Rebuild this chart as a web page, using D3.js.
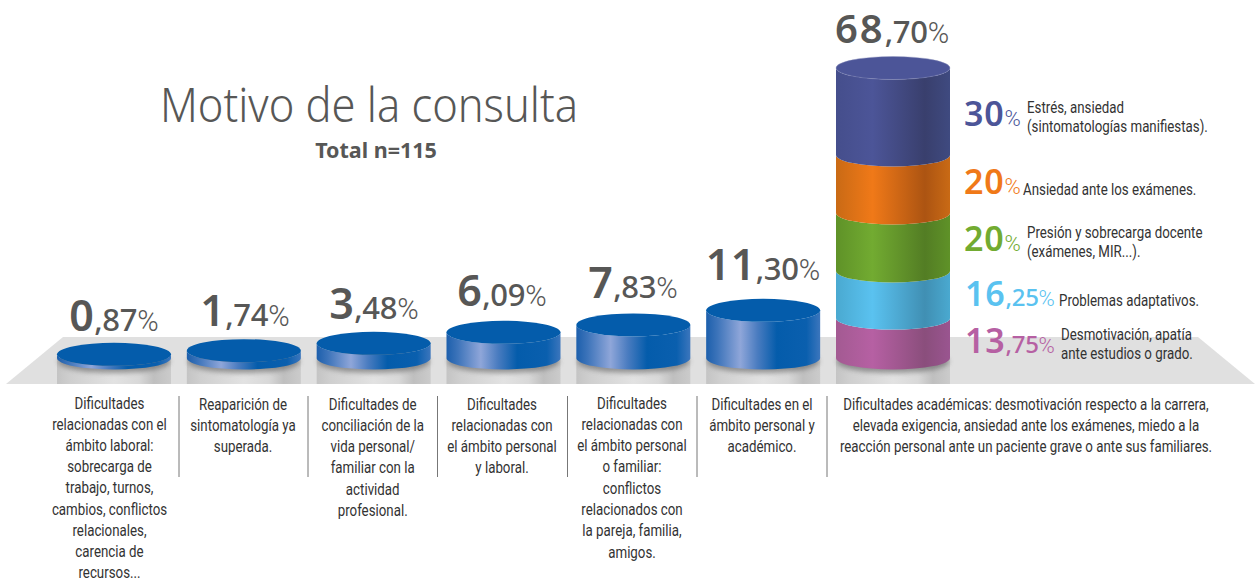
<!DOCTYPE html>
<html lang="es"><head><meta charset="utf-8">
<script src="https://cdn.jsdelivr.net/npm/d3@7/dist/d3.min.js"></script>
<style>html,body{margin:0;padding:0;background:#fff}svg{display:block}</style>
</head><body><div id="c"></div>
<script>
const titleText = "Motivo de la consulta";
const subtitleText = "Total n=115";
const categories = ["laboral","reaparicion","conciliacion","personalLaboral","personalFamiliar","personalAcademico","academicas"];
const values = [0.87,1.74,3.48,6.09,7.83,11.30,68.70];
const categoryLabels = [
 ["Dificultades","relacionadas con el","ámbito laboral:","sobrecarga de","trabajo, turnos,","cambios, conflictos","relacionales,","carencia de","recursos..."],
 ["Reaparición de","sintomatología ya","superada."],
 ["Dificultades de","conciliación de la","vida personal/","familiar con la","actividad","profesional."],
 ["Dificultades","relacionadas con","el ámbito personal","y laboral."],
 ["Dificultades","relacionadas con","el ámbito personal","o familiar:","conflictos","relacionados con","la pareja, familia,","amigos."],
 ["Dificultades en el","ámbito personal y","académico."],
 ["Dificultades académicas: desmotivación respecto a la carrera,","elevada exigencia, ansiedad ante los exámenes, miedo a la","reacción personal ante un paciente grave o ante sus familiares."]
];
const stackShares = [30,20,20,16.25,13.75];
const stackLabels = [
 ["Estrés, ansiedad","(sintomatologías manifiestas)."],
 ["Ansiedad ante los exámenes."],
 ["Presión y sobrecarga docente","(exámenes, MIR...)."],
 ["Problemas adaptativos."],
 ["Desmotivación, apatía","ante estudios o grado."]
];
const stackColors = ["#4c5598","#f07918","#72ab31","#5ac2f0","#b660a3"];

const W=1255,H=582;
const svg=d3.select("#c").append("svg").attr("width",W).attr("height",H).attr("viewBox",`0 0 ${W} ${H}`);
const defs=svg.append("defs");
const sans="'Noto Sans','Open Sans',sans-serif", cond="Roboto,sans-serif";
const inkDark="#575756", inkText="#333333";

const x=d3.scaleBand().domain(categories).range([57,950]).paddingInner(0.122);
const y=d3.scaleLinear().domain([0,68.7]).range([358,68]);
const rw=x.bandwidth()/2, ry=11.5, floorY=384;

function grad(id,stops){
  const g=defs.append("linearGradient").attr("id",id).attr("x1",0).attr("x2",1).attr("y1",0).attr("y2",0);
  stops.forEach(([o,c])=>g.append("stop").attr("offset",o).attr("stop-color",c));
}
grad("gBlue",[[0,"#1c5fac"],[.1,"#3d74ba"],[.3,"#8fa6d9"],[.45,"#4a7cc0"],[.62,"#045cab"],[.88,"#0a5fae"],[1,"#3c76bd"]]);
grad("gPed",[[0,"#c4c4c4"],[.12,"#cfcfcf"],[.5,"#e2e2e2"],[.72,"#d8d8d8"],[.85,"#bfbfbf"],[1,"#cbcbcb"]]);
const stops=[
 ["#454e8c","#4c5598","#393f6d","#3f4a80"],
 ["#c96a15","#f07918","#ac5412","#c96a15"],
 ["#5f9228","#72ab31","#537d24","#5f9228"],
 ["#4aa9d0","#5ac2f0","#408fb3","#4aa9d0"],
 ["#a35a92","#b660a3","#8a4e7c","#9a5590"]];
stops.forEach((s,i)=>grad("gS"+i,[[0,s[0]],[.32,s[1]],[.78,s[2]],[1,s[3]]]));
defs.append("filter").attr("id","blur").attr("x","-20%").attr("y","-50%").attr("width","140%").attr("height","200%")
  .append("feGaussianBlur").attr("stdDeviation",2.5);

// floor
svg.append("path").attr("d",`M63,337H1198L1255,${floorY}H6Z`).attr("fill","#e0e0e0");

function side(cx,top,bot){
  return `M${cx-rw},${top}V${bot}A${rw},${ry} 0 0 0 ${cx+rw},${bot}V${top}A${rw},${ry} 0 0 1 ${cx-rw},${top}Z`;
}
const col=svg.selectAll("g.col").data(categories.map((c,i)=>({c,i,v:values[i]}))).join("g").attr("class","col");
col.each(function(d){
  const g=d3.select(this), cx=x(d.c)+rw, top=y(d.v), base=y(0);
  g.append("rect").attr("x",cx-rw).attr("width",2*rw).attr("y",base).attr("height",floorY-base).attr("fill","url(#gPed)");
  g.append("ellipse").attr("cx",cx).attr("cy",base+3.5).attr("rx",rw-1).attr("ry",ry).attr("fill","#555").attr("opacity",.55).attr("filter","url(#blur)");
  if(d.c!=="academicas"){
    g.append("path").attr("d",side(cx,top,base)).attr("fill","url(#gBlue)");
    g.append("ellipse").attr("cx",cx).attr("cy",top).attr("rx",rw).attr("ry",ry).attr("fill","#045cab");
  } else {
    const scaleS=d3.scaleLinear().domain([0,100]).range([top,base]);
    const cum=d3.cumsum(stackShares);
    d3.range(stackShares.length-1,-1,-1).forEach(i=>{
      const a=scaleS(i?cum[i-1]:0), b=scaleS(cum[i]);
      g.append("path").attr("d",side(cx,a,b)).attr("fill",`url(#gS${i})`);
    });
    g.append("ellipse").attr("cx",cx).attr("cy",top).attr("rx",rw).attr("ry",ry).attr("fill",stackColors[0]).attr("stroke","#8d93bd").attr("stroke-width",.4);
  }
});

function splitVal(v){ const s=v.toFixed(2).split("."); return [s[0],","+s[1]]; }
function vlabel(sel,v,sizes,fill,wholeAsInt,track){
  const [a,b]=wholeAsInt?[String(v),""]:splitVal(v);
  sel.attr("fill",fill).attr("font-family",sans);
  sel.append("tspan").attr("font-size",sizes[0]).attr("font-weight",600).attr("letter-spacing",track).text(a);
  if(b) sel.append("tspan").attr("font-size",sizes[1]).attr("font-weight",500).attr("letter-spacing",-.3).text(b);
  sel.append("tspan").attr("font-size",sizes[2]).attr("font-family",cond).attr("font-weight",300).text("%");
}
// value labels
const labelCenter=[114,245,374,502,633,763,892];
const labelBase=[331,326,319,306,298,280,43];
const labelSize=[43,43,43,43,43,43,40];
const labelTrack=[.3,.3,.3,.3,.3,.3,2];
values.forEach((v,i)=>{
  const t=svg.append("text").attr("x",labelCenter[i]).attr("y",labelBase[i]).attr("text-anchor","middle");
  vlabel(t,v,[labelSize[i],31,29],inkDark,false,labelTrack[i]);
});

// stack legend
const legX=[964,964,964,965,965];
const legBase=[126,194,251,306,353];
const legTextX=[1027,1023,1027,1059,1061];
const legTextBase=[[113,132],[195],[238,257],[306],[340,359]];
const condX=0.832;
function ctext(parent,tx,ty,str,anchor,size){
  return parent.append("text").attr("transform",`translate(${tx},${ty}) scale(${condX},1)`)
    .attr("text-anchor",anchor).attr("font-family",cond).attr("font-size",size).attr("fill",inkText).text(str);
}
stackShares.forEach((s,i)=>{
  const t=svg.append("text").attr("x",legX[i]).attr("y",legBase[i]);
  const isInt=Number.isInteger(s);
  vlabel(t,s,isInt?[34,26,22]:[34,24,22],stackColors[i],isInt,.8);
  stackLabels[i].forEach((l,j)=>ctext(svg,legTextX[i],legTextBase[i][j],l,"start",16));
});

// category labels
const catCenter=[109.5,243,372.7,502,632,762,1026];
const catBase=[409,409.5,409.5,409.5,408.5,409.5,409.5];
const lineH=[21.1,21.3,21.3,21.3,21.3,21.3,21.3];
categoryLabels.forEach((lines,i)=>lines.forEach((l,j)=>ctext(svg,catCenter[i],catBase[i]+j*lineH[i],l,"middle",16)));
// dividers
const dividerX=[179,308,437.5,567.5,697,827];
svg.selectAll("line.div").data(dividerX).join("line").attr("class","div")
  .attr("x1",d=>d).attr("x2",d=>d).attr("y1",396).attr("y2",477).attr("stroke","#777").attr("stroke-width",1);

// title
svg.append("text").attr("x",160).attr("y",122).attr("font-family",sans).attr("font-weight",300).attr("font-size",47)
  .attr("fill",inkDark).attr("textLength",418).attr("lengthAdjust","spacingAndGlyphs").text(titleText);
svg.append("text").attr("x",376).attr("y",157.5).attr("text-anchor","middle").attr("font-family",sans).attr("font-weight",700).attr("font-size",21.5)
  .attr("fill",inkDark).text(subtitleText);
</script></body></html>
